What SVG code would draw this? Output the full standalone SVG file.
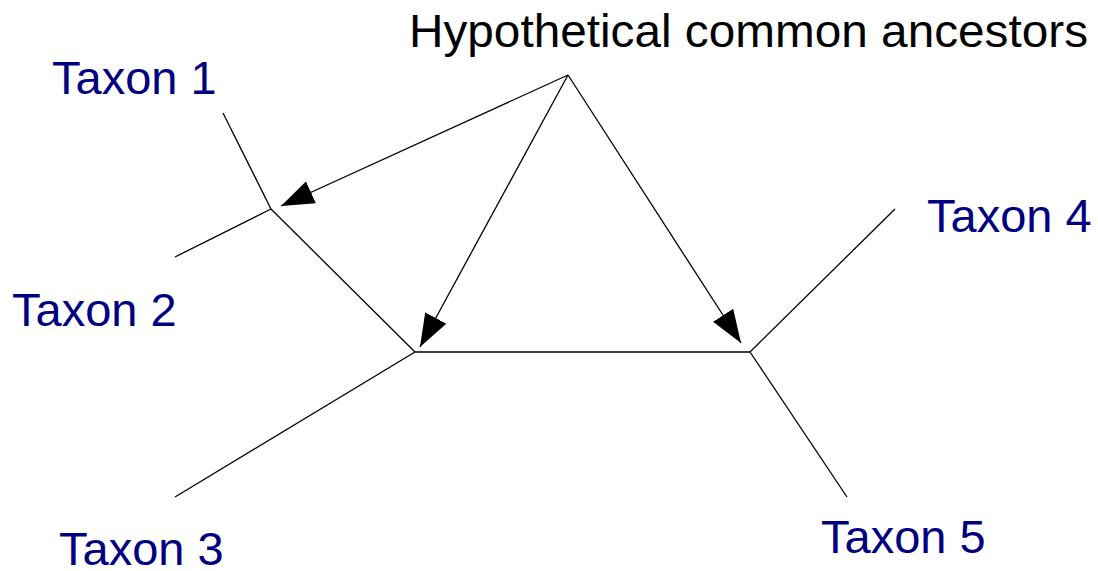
<svg xmlns="http://www.w3.org/2000/svg" width="1098" height="571" viewBox="0 0 1098 571">
<defs>
<marker id="arr" viewBox="0 0 33 24" refX="33" refY="12" markerWidth="33" markerHeight="24" markerUnits="userSpaceOnUse" orient="auto">
<path d="M0,0 L33,12 L0,24 Z" fill="#000"/>
</marker>
<style>
.e{stroke:#000;stroke-width:1.3;fill:none}
.t{font-family:"Liberation Sans",Arial,sans-serif;font-size:47px;fill:#000080}
.h{font-family:"Liberation Sans",Arial,sans-serif;font-size:46px;fill:#000}
</style>
</defs>
<rect width="1098" height="571" fill="#fff"/>
<g id="connectors">
<line class="e" x1="223" y1="113" x2="271" y2="209"/>
<line class="e" x1="175" y1="257" x2="271" y2="209"/>
<line class="e" x1="271" y1="209" x2="415" y2="352"/>
<line class="e" x1="415" y1="352" x2="175" y2="497"/>
<line class="e" x1="415" y1="352" x2="750" y2="352"/>
<line class="e" x1="750" y1="352" x2="895" y2="209"/>
<line class="e" x1="750" y1="352" x2="847" y2="497"/>
<line class="e" x1="568" y1="75" x2="281" y2="206" marker-end="url(#arr)"/>
<line class="e" x1="568" y1="75" x2="420" y2="347" marker-end="url(#arr)"/>
<line class="e" x1="568" y1="75" x2="741" y2="343" marker-end="url(#arr)"/>
</g>
<g id="ancestors"><text class="h" x="409" y="47" textLength="679" lengthAdjust="spacingAndGlyphs">Hypothetical common ancestors</text></g>
<g id="taxon1"><text class="t" x="52" y="94">Taxon 1</text></g>
<g id="taxon2"><text class="t" x="12" y="326">Taxon 2</text></g>
<g id="taxon3"><text class="t" x="59" y="565">Taxon 3</text></g>
<g id="taxon4"><text class="t" x="927" y="232">Taxon 4</text></g>
<g id="taxon5"><text class="t" x="821" y="553">Taxon 5</text></g>
</svg>
